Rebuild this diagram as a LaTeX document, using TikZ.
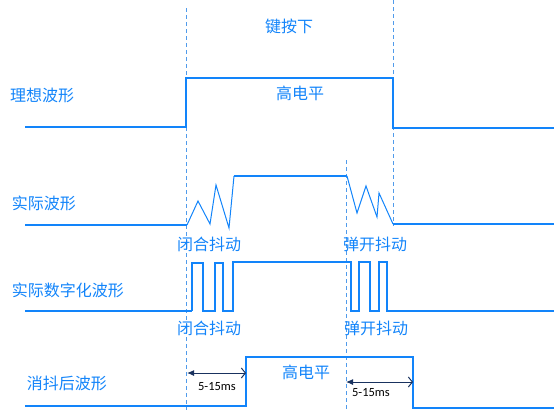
\documentclass[tikz,border=0pt]{standalone}
\usepackage{fontspec}
\newfontfamily\cjk{Noto Sans CJK SC}
\setsansfont{Carlito}
\usetikzlibrary{arrows.meta}
\definecolor{wave}{RGB}{18,132,250}
\definecolor{guide}{RGB}{80,155,235}
\definecolor{navy}{RGB}{25,50,95}
\begin{document}
\begin{tikzpicture}[x=1pt,y=-1pt,
  lbl/.style={text=wave,font=\cjk\fontsize{16}{16}\selectfont,inner sep=0pt},
  ms/.style={text=black,font=\sffamily\fontsize{12.5}{12.5}\selectfont,inner sep=0pt},
  wv/.style={draw=wave,line width=2pt,line join=miter},
  bounce/.style={draw=wave,line width=1pt,line join=miter},
  digi/.style={draw=wave,line width=1.5pt,line join=miter},
  guideline/.style={draw=guide,line width=0.8pt,dash pattern=on 4pt off 3pt},
  span/.style={draw=navy,line width=1pt,{Latex[length=7pt,width=6pt]}-{Straight Barb[length=4pt,width=10pt]}}
]
\useasboundingbox (0,0) rectangle (554,410);
% guides
\draw[guideline] (186,8) -- (186,410);
\draw[guideline] (393,0) -- (393,226);
\draw[guideline] (346,160) -- (346,410);
% labels
\node[lbl] (k) at (289,26) {键按下};
\node[lbl] (l1) at (42,95) {理想波形};
\node[lbl] (h1) at (300,93) {高电平};
\node[lbl] (l2) at (44,203) {实际波形};
\node[lbl] (c1) at (209,244) {闭合抖动};
\node[lbl] (o1) at (375,244) {弹开抖动};
\node[lbl] (l3) at (68,290) {实际数字化波形};
\node[lbl] (c2) at (209,328) {闭合抖动};
\node[lbl] (o2) at (376,328) {弹开抖动};
\node[lbl] (l4) at (67,383) {消抖后波形};
\node[lbl] (h2) at (306,372) {高电平};
% ideal
\draw[wv] (25,127) -- (186,127) -- (186,78) -- (393,78) -- (393,128) -- (554,128);
% actual
\draw[wv] (25,225) -- (187,225);
\draw[bounce] (187,225) -- (198,201) -- (210,224) -- (216,185) -- (229,228) -- (234,176);
\draw[wv] (234,176) -- (347,176);
\draw[bounce] (347,176) -- (357,213) -- (366,186) -- (377,217) -- (379,193) -- (393,224);
\draw[wv] (393,224) -- (554,224);
% digital
\draw[wv] (25,311) -- (192,311);
\draw[digi] (192,311) -- (192,263) -- (203,263) -- (203,311) -- (215,311) -- (215,263) -- (223,263) -- (223,311) -- (233,311) -- (233,262) -- (351,262) -- (351,311) -- (359,311) -- (359,262) -- (370,262) -- (370,311) -- (379,311) -- (379,262) -- (387,262) -- (387,311) -- (554,311);
% debounced
\draw[wv] (25,406) -- (246,406) -- (246,357) -- (413,357) -- (413,408) -- (554,408);
% spans
\coordinate (a1s) at (187,373);
\coordinate (a1e) at (246,373);
\coordinate (a2s) at (346,382);
\coordinate (a2e) at (413,382);
\draw[span] (a1s) -- (a1e);
\draw[span] (a2s) -- (a2e);
\node[ms] (m1) at (217,387) {5-15ms};
\node[ms] (m2) at (371,393) {5-15ms};
\end{tikzpicture}
\end{document}
